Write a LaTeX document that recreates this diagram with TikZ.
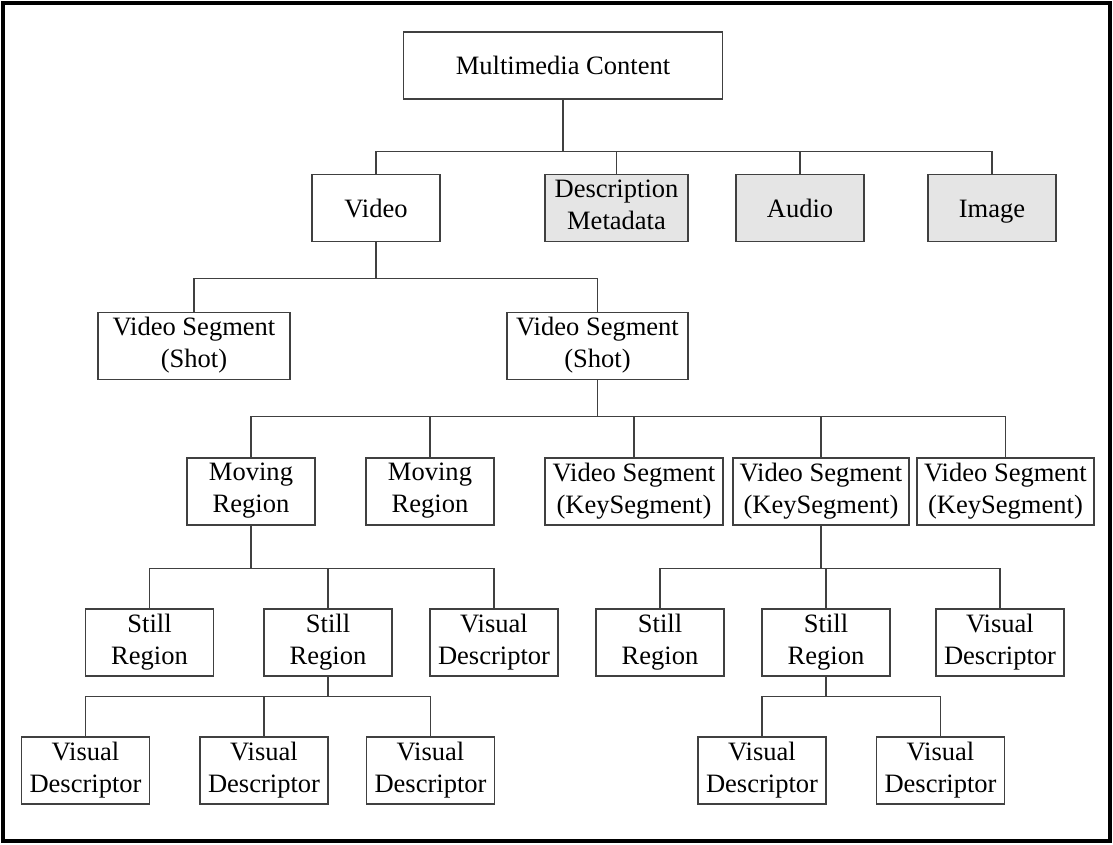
\documentclass[tikz,border=0pt]{standalone}
\usepackage{fontspec}
\setmainfont{Liberation Serif}
\tikzset{
  box/.style={draw=black!75,line width=1pt,minimum width=96pt,minimum height=50.25pt,
    align=center,inner sep=1pt,font=\fontsize{19.9pt}{24pt}\selectfont,
    execute at begin node={\rule{0pt}{18.5pt}},execute at end node={\rule[-5pt]{0pt}{0pt}}},
  greybox/.style={box,fill=black!10},
  link/.style={draw=black!75,line width=1pt},
}
\begin{document}
\begin{tikzpicture}[x=0.75pt,y=-0.75pt]
\useasboundingbox (0,0) rectangle (1113,844);
\draw[line width=3pt] (3,3) rectangle (1110,841);
\node[box,minimum width=239.25pt] (b_0_0) at (563,65.5) {Multimedia Content};
\node[box] (b_1_0) at (376,208) {Video};
\node[greybox,minimum width=107.25pt] (b_1_1) at (616.5,208) {Description\\Metadata};
\node[greybox] (b_1_2) at (800,208) {Audio};
\node[greybox] (b_1_3) at (992,208) {Image};
\node[box,minimum width=144pt] (b_2_0) at (194,346) {Video Segment\\(Shot)};
\node[box,minimum width=135.75pt] (b_2_1) at (597.5,346) {Video Segment\\(Shot)};
\node[box] (b_3_0) at (251,491.5) {Moving\\Region};
\node[box] (b_3_1) at (430,491.5) {Moving\\Region};
\node[box,minimum width=133.5pt] (b_3_2) at (634,491.5) {Video Segment\\(KeySegment)};
\node[box,minimum width=132pt] (b_3_3) at (821,491.5) {Video Segment\\(KeySegment)};
\node[box,minimum width=132.75pt] (b_3_4) at (1005.5,491.5) {Video Segment\\(KeySegment)};
\node[box] (b_4_0) at (149.5,642.5) {Still\\Region};
\node[box] (b_4_1) at (328,642.5) {Still\\Region};
\node[box] (b_4_2) at (494,642.5) {Visual\\Descriptor};
\node[box] (b_4_3) at (660,642.5) {Still\\Region};
\node[box] (b_4_4) at (826,642.5) {Still\\Region};
\node[box] (b_4_5) at (1000,642.5) {Visual\\Descriptor};
\node[box] (b_5_0) at (85.5,770.5) {Visual\\Descriptor};
\node[box] (b_5_1) at (264,770.5) {Visual\\Descriptor};
\node[box] (b_5_2) at (430.5,770.5) {Visual\\Descriptor};
\node[box] (b_5_3) at (762,770.5) {Visual\\Descriptor};
\node[box] (b_5_4) at (940.5,770.5) {Visual\\Descriptor};
\draw[link,line width=1.5pt] (b_0_0.south) -- ++(0,52);
\draw[link] (b_0_0.south) -- ++(0,52) -| (b_1_0.north);
\draw[link] (b_0_0.south) -- ++(0,52) -| (b_1_1.north);
\draw[link] (b_0_0.south) -- ++(0,52) -| (b_1_2.north);
\draw[link] (b_0_0.south) -- ++(0,52) -| (b_1_3.north);
\draw[link] (b_1_0.south) -- ++(0,36) -| (b_2_0.north);
\draw[link] (b_1_0.south) -- ++(0,36) -| (b_2_1.north);
\draw[link] (b_2_1.south) -- ++(0,36) -| (b_3_0.north);
\draw[link] (b_2_1.south) -- ++(0,36) -| (b_3_1.north);
\draw[link] (b_2_1.south) -- ++(0,36) -| (b_3_2.north);
\draw[link] (b_2_1.south) -- ++(0,36) -| (b_3_3.north);
\draw[link] (b_2_1.south) -- ++(0,36) -| (b_3_4.north);
\draw[link] (b_3_0.south) -- ++(0,43) -| (b_4_0.north);
\draw[link] (b_3_0.south) -- ++(0,43) -| (b_4_1.north);
\draw[link] (b_3_0.south) -- ++(0,43) -| (b_4_2.north);
\draw[link] (b_3_3.south) -- ++(0,43) -| (b_4_3.north);
\draw[link] (b_3_3.south) -- ++(0,43) -| (b_4_4.north);
\draw[link] (b_3_3.south) -- ++(0,43) -| (b_4_5.north);
\draw[link] (b_4_1.south) -- ++(0,20) -| (b_5_0.north);
\draw[link] (b_4_1.south) -- ++(0,20) -| (b_5_1.north);
\draw[link] (b_4_1.south) -- ++(0,20) -| (b_5_2.north);
\draw[link] (b_4_4.south) -- ++(0,20) -| (b_5_3.north);
\draw[link] (b_4_4.south) -- ++(0,20) -| (b_5_4.north);
\end{tikzpicture}
\end{document}
